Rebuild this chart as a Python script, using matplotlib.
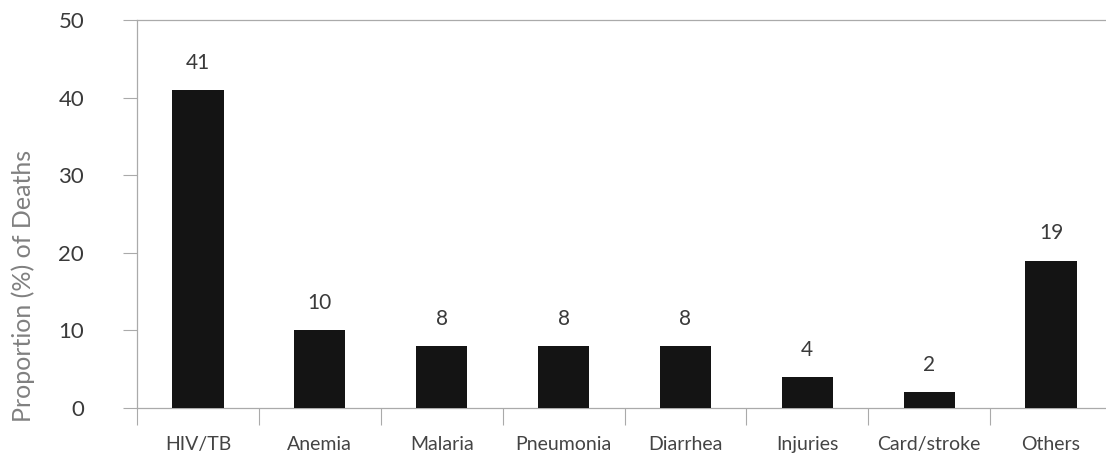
import matplotlib
matplotlib.use('Agg')
import matplotlib.pyplot as plt
import numpy as np

# data
causes = ['HIV/TB', 'Anemia', 'Malaria', 'Pneumonia', 'Diarrhea', 'Injuries', 'Card/stroke', 'Others']
deaths_pct = [41, 10, 8, 8, 8, 4, 2, 19]
y_ticks = [0, 10, 20, 30, 40, 50]

plt.rcParams['font.family'] = ['Lato', 'DejaVu Sans']

fig = plt.figure(figsize=(11.06, 4.61), dpi=100)
ax = fig.add_axes([137/1106, 53/461, 975/1106, 388/461])

x = np.arange(len(causes))
ax.bar(x, deaths_pct, width=0.42, color='#141414', zorder=3)

# value labels above each bar
for xi, v in zip(x, deaths_pct):
    ax.text(xi, v + 2.2, str(v), ha='center', va='bottom', fontsize=15,
            color='#3a3a3a')

ax.set_xlim(-0.5, len(causes) - 0.5)
ax.set_ylim(0, 50)
ax.set_yticks(y_ticks)
ax.set_yticklabels([str(t) for t in y_ticks], fontsize=16, color='#3a3a3a')

# category labels centred, tick marks at the boundaries
ax.set_xticks(x)
ax.set_xticklabels(causes, fontsize=14, color='#444444')
ax.tick_params(axis='x', length=0, pad=20)
ax.set_xticks(np.arange(len(causes)) - 0.5, minor=True)
ax.tick_params(axis='x', which='minor', length=12, width=0.8, color='#aaaaaa')
ax.tick_params(axis='y', length=10, width=0.8, color='#aaaaaa', pad=28)

for side in ['left', 'top', 'bottom']:
    ax.spines[side].set_color('#aaaaaa')
    ax.spines[side].set_linewidth(0.9)
ax.spines['right'].set_visible(False)

ax.set_ylabel('Proportion (%) of Deaths', fontsize=18, color='#808080')
ax.yaxis.set_label_coords(-102/975, 122/388)

fig.savefig('out.png', dpi=100)
